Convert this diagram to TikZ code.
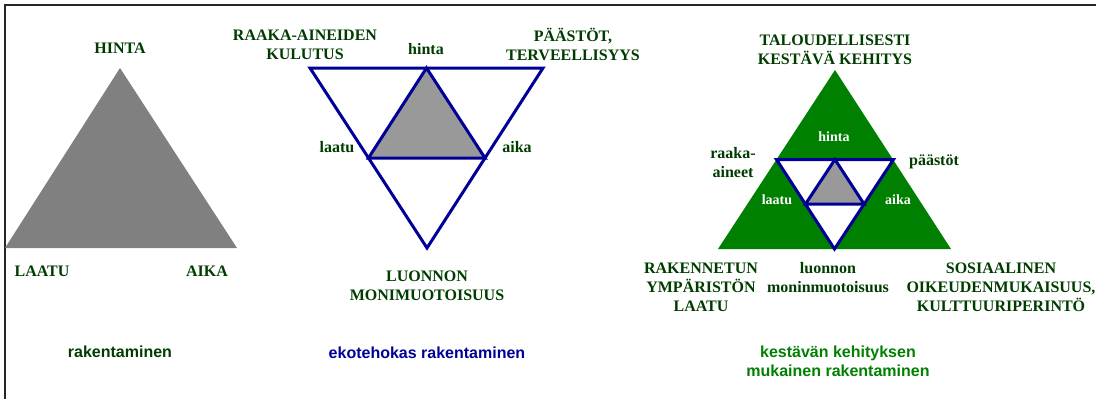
\documentclass[tikz,border=0pt]{standalone}
\usepackage{fontspec}
\setmainfont{Liberation Serif}
\setsansfont{Liberation Sans}
\usepackage{xcolor}
\usepackage{tikz}
\usetikzlibrary{positioning}

\definecolor{dkgreen}{RGB}{0,60,0}
\definecolor{navyline}{RGB}{0,0,150}
\definecolor{leafgreen}{RGB}{0,128,0}

\begin{document}
\begin{tikzpicture}[x=1pt, y=-1pt,
    lbl/.style={text=dkgreen, font=\fontsize{16}{19}\selectfont\bfseries, align=center, inner sep=0pt},
    wlbl/.style={text=white, font=\fontsize{14}{17}\selectfont\bfseries, inner sep=0pt},
    capt/.style={font=\fontsize{16}{19}\selectfont\sffamily\bfseries, align=center, inner sep=0pt}]
    \useasboundingbox (0,0) rectangle (1096,399);

    % Frame
    \draw[line width=1.5pt, black!85] (5,399) -- (5,5) -- (1096,5);

    % Left triangle
    \coordinate (h1) at (120,68);
    \coordinate (l1) at (5,248);
    \coordinate (a1) at (237,248);
    \fill[gray] (h1) -- (l1) -- (a1) -- cycle;

    \node[lbl] (hinta1) at (120,48) {HINTA};
    \node[lbl] (laatu1) at (42,271) {LAATU};
    \node[lbl] (aika1) at (207,271) {AIKA};
    \node[capt, text=dkgreen] (capt1) at (120,352) {rakentaminen};

    % Middle triangles
    \coordinate (rk2) at (310,68);
    \coordinate (pa2) at (543,68);
    \coordinate (lu2) at (427,248);
    \coordinate (h2) at (426.5,68);
    \coordinate (l2) at (368.5,158);
    \coordinate (a2) at (485,158);
    \fill[black!40] (h2) -- (l2) -- (a2) -- cycle;
    \draw[navyline, line width=3pt] (rk2) -- (pa2) -- (lu2) -- cycle;
    \draw[navyline, line width=3pt] (h2) -- (l2) -- (a2) -- cycle;

    \node[lbl] (raaka2) at (305,44.5) {RAAKA-AINEIDEN\\KULUTUS};
    \node[lbl] (hinta2) at (426,49) {hinta};
    \node[lbl] (paasto2) at (573,44.5) {PÄÄSTÖT,\\TERVEELLISYYS};
    \node[lbl] (laatu2) at (337,147) {laatu};
    \node[lbl] (aika2) at (517,147) {aika};
    \node[lbl] (luonto2) at (427,285.5) {LUONNON\\MONIMUOTOISUUS};
    \node[capt, text=navyline] (capt2) at (427,353) {ekotehokas rakentaminen};

    % Right triangles
    \coordinate (t3) at (835,70);
    \coordinate (r3) at (718,249);
    \coordinate (s3) at (951,249);
    \coordinate (rk3) at (776.5,159.5);
    \coordinate (pa3) at (893.5,159.5);
    \coordinate (lu3) at (834.5,249);
    \coordinate (h3) at (835,159.5);
    \coordinate (l3) at (805.5,204);
    \coordinate (a3) at (864,204);
    \fill[leafgreen] (t3) -- (r3) -- (s3) -- cycle;
    \fill[white] (rk3) -- (pa3) -- (lu3) -- cycle;
    \fill[black!40] (h3) -- (l3) -- (a3) -- cycle;
    \draw[navyline, line width=3pt] (rk3) -- (pa3) -- (lu3) -- cycle;
    \draw[navyline, line width=3pt] (h3) -- (l3) -- (a3) -- cycle;

    \node[lbl] (talous3) at (835,50) {TALOUDELLISESTI\\KESTÄVÄ KEHITYS};
    \node[wlbl] (hinta3) at (834,137) {hinta};
    \node[wlbl] (laatu3) at (777,200) {laatu};
    \node[wlbl] (aika3) at (898,200) {aika};
    \node[lbl] (raaka3) at (733,162.5) {raaka-\\aineet};
    \node[lbl] (paasto3) at (934,162) {päästöt};
    \node[lbl] (ympar3) at (701,287) {RAKENNETUN\\YMPÄRISTÖN\\LAATU};
    \node[lbl] (luonto3) at (828,278) {luonnon\\moninmuotoisuus};
    \node[lbl] (sosia3) at (1001,287) {SOSIAALINEN\\OIKEUDENMUKAISUUS,\\KULTTUURIPERINTÖ};
    \node[capt, text=leafgreen] (capt3) at (838,361.5) {kestävän kehityksen\\mukainen rakentaminen};
\end{tikzpicture}
\end{document}
